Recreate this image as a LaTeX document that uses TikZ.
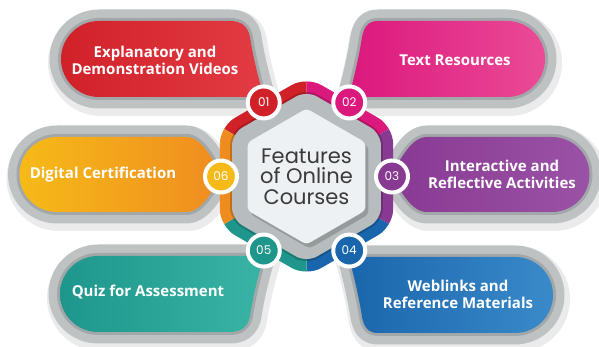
\documentclass[tikz,border=0pt]{standalone}
\usepackage{fontspec}
\setmainfont{Open Sans}
\newfontfamily\titlefont{Poppins}
\usetikzlibrary{calc,shadows}

\definecolor{redA}{HTML}{D02129}\definecolor{redB}{HTML}{E33B44}
\definecolor{pinkA}{HTML}{DB187C}\definecolor{pinkB}{HTML}{EA4B97}
\definecolor{purpA}{HTML}{883A92}\definecolor{purpB}{HTML}{9A52A6}
\definecolor{blueA}{HTML}{1A66AC}\definecolor{blueB}{HTML}{3A8ACA}
\definecolor{tealA}{HTML}{1E968C}\definecolor{tealB}{HTML}{39B4A4}
\definecolor{orA}{HTML}{F6BA18}\definecolor{orB}{HTML}{EF8C20}
\definecolor{rimgray}{HTML}{BEC2C3}\definecolor{rimdark}{HTML}{A2A8AA}
\definecolor{ringgray}{HTML}{B7BCBE}\definecolor{hexlight}{HTML}{EEF1F3}
\definecolor{titlegray}{HTML}{3A3A3A}

\tikzset{pillshadow/.style={fill=black,draw=black,opacity=.08,line width=30pt,line join=round},
pillrim/.style={fill=rimgray,draw=rimgray,line width=23pt,line join=round},
pilledge/.style={draw=rimdark,line width=6pt,line join=round}}

% pill outlines (pt, origin bottom left)
\def\pillA{(99,326) -- (230,326) .. controls (242,326) and (248,320) .. (250,310) .. controls (253,290) and (258,270) .. (264,250) -- (99,250) arc[start angle=270,end angle=90,radius=38] -- cycle}
\def\pillB{(507,326) -- (378,326) .. controls (368,326) and (364,320) .. (362,310) .. controls (359,290) and (354,270) .. (349,250) -- (507,250) arc[start angle=-90,end angle=90,radius=38] -- cycle}
\def\pillC{(552,210) -- (427,210) .. controls (411,210) and (401,188) .. (391,172) .. controls (401,156) and (411,135) .. (427,135) -- (552,135) arc[start angle=-90,end angle=90,radius=37.5] -- cycle}
\def\pillD{(515,14) -- (378,14) .. controls (368,14) and (364,20) .. (362,30) .. controls (359,50) and (354,70) .. (349,90) -- (515,90) arc[start angle=90,end angle=-90,radius=38] -- cycle}
\def\pillE{(98,15) -- (230,15) .. controls (242,15) and (248,21) .. (250,31) .. controls (253,51) and (258,71) .. (264,91) -- (98,91) arc[start angle=90,end angle=270,radius=38] -- cycle}
\def\pillF{(57,210) -- (186,210) .. controls (202,210) and (212,188) .. (222,172) .. controls (212,156) and (202,135) .. (186,135) -- (57,135) arc[start angle=270,end angle=90,radius=37.5] -- cycle}

\begin{document}
\begin{tikzpicture}[x=1pt,y=1pt]

\tikzset{pilltext/.style={text=white,font=\bfseries\fontsize{15}{17}\selectfont,align=center,inner sep=0pt},
numdot/.style={circle,draw=white,line width=4pt,minimum size=32pt,inner sep=0pt,text=white,font=\titlefont\fontsize{12}{12}\selectfont,drop shadow={opacity=.25,shadow xshift=1pt,shadow yshift=-1.5pt}},
titletext/.style={text=titlegray,font=\titlefont\fontsize{21}{20.5}\selectfont,align=center,inner sep=0pt}}

\useasboundingbox (0,0) rectangle (599,347);
\fill[white] (0,0) rectangle (599,347);

% Grey rims
\foreach \p in {\pillA,\pillB,\pillC,\pillD,\pillE,\pillF} {
  \path[pillshadow,shift={(2,-4)}] \p;
  \path[pillrim] \p;
  \path[pilledge] \p;
}

% Coloured pills
\shade[left color=redA,right color=redB] \pillA;
\shade[left color=pinkA,right color=pinkB] \pillB;
\shade[left color=purpA,right color=purpB] \pillC;
\shade[left color=blueA,right color=blueB] \pillD;
\shade[left color=tealA,right color=tealB] \pillE;
\shade[left color=orA,right color=orB] \pillF;

% Pill labels
\node[pilltext] (tA) at (155,287) {Explanatory and\\Demonstration Videos};
\node[pilltext] (tB) at (455,287) {Text Resources};
\node[pilltext] (tC) at (502,173) {Interactive and\\Reflective Activities};
\node[pilltext] (tD) at (458,53) {Weblinks and\\Reference Materials};
\node[pilltext] (tE) at (148,55) {Quiz for Assessment};
\node[pilltext] (tF) at (103,172) {Digital Certification};

% Hexagon ring
\begin{scope}[shift={(306.5,170.5)}]
\begin{scope}
\clip[rounded corners=17pt] (90:100) \foreach \a in {30,-30,-90,-150,150} {-- (\a:100)} -- cycle;
\foreach \a/\c in {120/redA,60/pinkA,0/purpA,-60/blueA,-120/tealA,180/orB}
  \fill[\c] (0,0) -- ({\a-30}:120) -- ({\a+30}:120) -- cycle;
\end{scope}
\draw[black,opacity=.2,line width=3pt,rounded corners=12pt] (90:86.5) \foreach \a in {30,-30,-90,-150,150} {-- (\a:86.5)} -- cycle;
\fill[ringgray,rounded corners=12pt] (90:86) \foreach \a in {30,-30,-90,-150,150} {-- (\a:86)} -- cycle;
\fill[black,opacity=.18,rounded corners=4pt,shift={(3,-4)}] (90:68) \foreach \a in {30,-30,-90,-150,150} {-- (\a:68)} -- cycle;
\fill[hexlight,rounded corners=4pt] (90:68) \foreach \a in {30,-30,-90,-150,150} {-- (\a:68)} -- cycle;

\node[titletext] (title) at (0,0) {Features\\of Online\\Courses};

% Number circles
\foreach \a/\c/\n [count=\i] in {120/redA/01,60/pinkA/02,0/purpA/03,-60/blueA/04,-120/tealA/05,180/orA/06}
  \node[numdot,fill=\c] (n\i) at (\a:85.5) {\n};
\end{scope}

\end{tikzpicture}
\end{document}
